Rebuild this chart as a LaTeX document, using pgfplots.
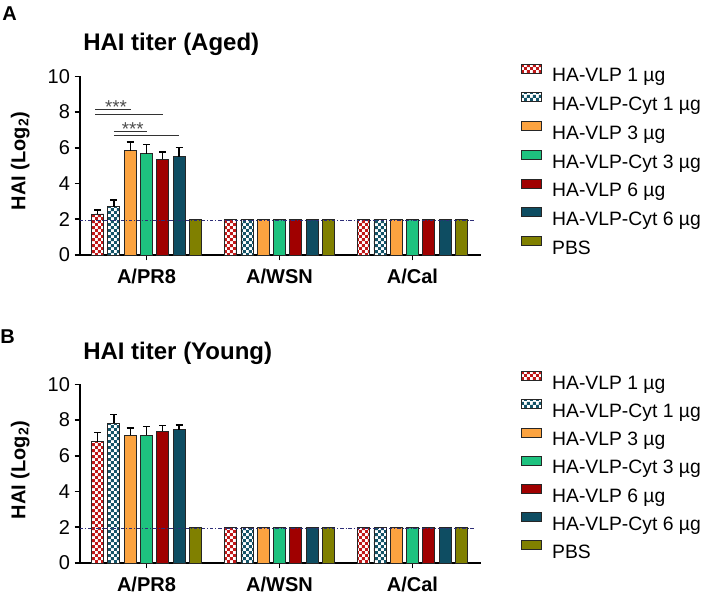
\documentclass[border=0pt]{standalone}
\usepackage{fontspec}
\setmainfont{Liberation Sans}
\usepackage{pgfplots}
\pgfplotsset{compat=1.18}
\usetikzlibrary{patterns}

\pgfdeclarepatternformonly{checker}{\pgfpointorigin}{\pgfqpoint{4.8pt}{4.8pt}}{\pgfqpoint{4.8pt}{4.8pt}}{%
  \pgfpathrectangle{\pgfpointorigin}{\pgfqpoint{2.4pt}{2.4pt}}%
  \pgfpathrectangle{\pgfqpoint{2.4pt}{2.4pt}}{\pgfqpoint{2.4pt}{2.4pt}}%
  \pgfusepath{fill}}

\definecolor{cRed}{HTML}{C01818}
\definecolor{cTeal}{HTML}{145468}
\definecolor{cOrange}{HTML}{FBA340}
\definecolor{cGreen}{HTML}{1EC27F}
\definecolor{cDRed}{HTML}{A00000}
\definecolor{cDTeal}{HTML}{0E4D62}
\definecolor{cOlive}{HTML}{808000}
\definecolor{cDash}{HTML}{2E2E78}

\pgfplotsset{
  hai/.style={
    x=99.75pt, y=13.4pt, xmin=-0.5, xmax=2.515, ymin=0, ymax=10,
    axis x line*=bottom, axis y line*=left,
    axis line style={line width=1.2pt, black},
    ybar, bar width=9pt,
    xtick={0,1,2}, xticklabels={A/PR8,A/WSN,A/Cal},
    ytick={0,2,4,6,8,10},
    tick align=outside, major tick length=4pt,
    tick style={line width=1.2pt, black},
    xticklabel style={font=\fontsize{15}{15}\selectfont\bfseries, yshift=-3pt},
    yticklabel style={font=\fontsize{15}{15}\selectfont},
    /pgf/number format/assume math mode=true,
    legend image code/.code={\draw[##1] (0pt,1.5pt) rectangle (15pt,8.25pt);},
    legend cell align=left,
    legend style={draw=none, fill=none, anchor=north west,
      font=\fontsize{14.5}{14.5}\selectfont,
      inner sep=0pt, row sep=6pt, column sep=7.5pt,
      nodes={inner sep=0pt, text height=12pt, text depth=2pt}},
    error bars/y dir=plus, error bars/y explicit,
    error bars/error mark options={rotate=90, mark size=2.6pt, line width=1pt, black},
    error bars/error bar style={line width=1pt, black},
  },
  bb/.style={draw=black!85, line width=0.6pt},
  b1/.style={bb, preaction={fill=white}, pattern=checker, pattern color=cRed, bar shift=-36.7pt},
  b2/.style={bb, preaction={fill=white}, pattern=checker, pattern color=cTeal, bar shift=-24.45pt},
  b3/.style={bb, fill=cOrange, bar shift=-12.23pt},
  b4/.style={bb, fill=cGreen, bar shift=0pt},
  b5/.style={bb, fill=cDRed, bar shift=12.23pt},
  b6/.style={bb, fill=cDTeal, bar shift=24.45pt},
  b7/.style={bb, fill=cOlive, bar shift=36.7pt},
}

\begin{document}
\begin{tikzpicture}
\useasboundingbox (0,0) rectangle (531pt,-445.5pt);

% ---------- Panel A ----------
\node[anchor=base west, font=\fontsize{15}{15}\selectfont\bfseries, inner sep=0pt] at (1.5pt,-15pt) {A};
\node[anchor=base west, font=\fontsize{18}{18}\selectfont\bfseries, inner sep=0pt] at (62.25pt,-37.5pt) {HAI titer (Aged)};
\node[rotate=90, anchor=base, font=\fontsize{15}{15}\selectfont\bfseries, inner sep=0pt] at (19pt,-120.75pt) {HAI (Log\textsubscript{2})};

\begin{axis}[hai, at={(60pt,-191.25pt)}, anchor=south west,
  legend style={at={(axis description cs:1.1,1.072)}}]
\addplot[b1] coordinates {(0,2.30) +- (0,0.22) (1,2) (2,2)};
\addplot[b2] coordinates {(0,2.70) +- (0,0.37) (1,2) (2,2)};
\addplot[b3] coordinates {(0,5.83) +- (0,0.50) (1,2) (2,2)};
\addplot[b4] coordinates {(0,5.68) +- (0,0.50) (1,2) (2,2)};
\addplot[b5] coordinates {(0,5.35) +- (0,0.42) (1,2) (2,2)};
\addplot[b6] coordinates {(0,5.50) +- (0,0.50) (1,2) (2,2)};
\addplot[b7] coordinates {(0,2) (1,2) (2,2)};
\legend{HA-VLP 1 µg, HA-VLP-Cyt 1 µg, HA-VLP 3 µg, HA-VLP-Cyt 3 µg, HA-VLP 6 µg, HA-VLP-Cyt 6 µg, PBS}
\draw[cDash, line width=0.6pt, dash pattern=on 2.5pt off 1.5pt on 0.6pt off 1.5pt] (axis cs:-0.5,1.95) -- (axis cs:2.47,1.95);
\draw[black!80, line width=0.75pt] (axis cs:-0.386,8.14) -- (axis cs:-0.12,8.14);
\draw[black!80, line width=0.75pt] (axis cs:-0.386,7.88) -- (axis cs:0.123,7.88);
\draw[black!80, line width=0.75pt] (axis cs:-0.246,6.89) -- (axis cs:0.005,6.89);
\draw[black!80, line width=0.75pt] (axis cs:-0.246,6.70) -- (axis cs:0.248,6.70);
\node[anchor=base, inner sep=0pt, text=black!70, font=\fontsize{14}{14}\selectfont] at (axis cs:-0.229,7.94) {***};
\node[anchor=base, inner sep=0pt, text=black!70, font=\fontsize{14}{14}\selectfont] at (axis cs:-0.103,6.69) {***};
\end{axis}

% ---------- Panel B ----------
\node[anchor=base west, font=\fontsize{15}{15}\selectfont\bfseries, inner sep=0pt] at (0pt,-257.25pt) {B};
\node[anchor=base west, font=\fontsize{18}{18}\selectfont\bfseries, inner sep=0pt] at (62.25pt,-269.25pt) {HAI titer (Young)};
\node[rotate=90, anchor=base, font=\fontsize{15}{15}\selectfont\bfseries, inner sep=0pt] at (19pt,-352.5pt) {HAI (Log\textsubscript{2})};

\begin{axis}[hai, at={(60pt,-422.25pt)}, anchor=south west,
  legend style={at={(axis description cs:1.1,1.075)}, row sep=5.6pt}]
\addplot[b1] coordinates {(0,6.78) +- (0,0.54) (1,2) (2,2)};
\addplot[b2] coordinates {(0,7.81) +- (0,0.50) (1,2) (2,2)};
\addplot[b3] coordinates {(0,7.14) +- (0,0.41) (1,2) (2,2)};
\addplot[b4] coordinates {(0,7.14) +- (0,0.49) (1,2) (2,2)};
\addplot[b5] coordinates {(0,7.38) +- (0,0.30) (1,2) (2,2)};
\addplot[b6] coordinates {(0,7.47) +- (0,0.25) (1,2) (2,2)};
\addplot[b7] coordinates {(0,2) (1,2) (2,2)};
\legend{HA-VLP 1 µg, HA-VLP-Cyt 1 µg, HA-VLP 3 µg, HA-VLP-Cyt 3 µg, HA-VLP 6 µg, HA-VLP-Cyt 6 µg, PBS}
\draw[cDash, line width=0.6pt, dash pattern=on 2.5pt off 1.5pt on 0.6pt off 1.5pt] (axis cs:-0.5,1.95) -- (axis cs:2.47,1.95);
\end{axis}
\end{tikzpicture}
\end{document}
